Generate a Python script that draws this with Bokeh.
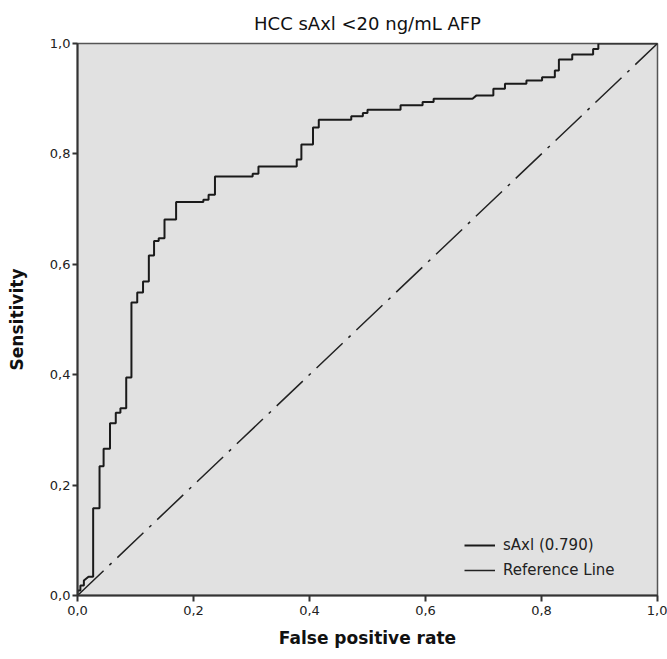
from bokeh.plotting import figure
from bokeh.models import Range1d, FixedTicker, CustomJSTickFormatter, Legend, LegendItem
from bokeh.embed import file_html
from bokeh.resources import INLINE

# ROC curve vertices (false positive rate, sensitivity)
fpr = [0.0, 0.0, 0.005, 0.005, 0.011, 0.011, 0.019, 0.027, 0.027, 0.038, 0.038, 0.045, 0.045,
       0.056, 0.056, 0.066, 0.066, 0.074, 0.074, 0.084, 0.084, 0.093, 0.093, 0.103, 0.103,
       0.113, 0.113, 0.123, 0.123, 0.132, 0.132, 0.140, 0.140, 0.150, 0.150, 0.170, 0.170,
       0.217, 0.217, 0.226, 0.226, 0.237, 0.237, 0.302, 0.302, 0.312, 0.312, 0.378, 0.378,
       0.386, 0.386, 0.406, 0.406, 0.416, 0.416, 0.472, 0.472, 0.492, 0.492, 0.500, 0.500,
       0.557, 0.557, 0.595, 0.595, 0.614, 0.614, 0.681, 0.688, 0.717, 0.717, 0.737, 0.737,
       0.774, 0.774, 0.801, 0.801, 0.823, 0.823, 0.830, 0.830, 0.853, 0.853, 0.889, 0.889,
       0.898, 0.898, 1.0]
tpr = [0.0, 0.009, 0.009, 0.018, 0.018, 0.027, 0.034, 0.034, 0.158, 0.158, 0.234, 0.234, 0.266,
       0.266, 0.312, 0.312, 0.331, 0.331, 0.339, 0.339, 0.395, 0.395, 0.531, 0.531, 0.549,
       0.549, 0.569, 0.569, 0.616, 0.616, 0.642, 0.642, 0.647, 0.647, 0.681, 0.681, 0.713,
       0.713, 0.717, 0.717, 0.726, 0.726, 0.759, 0.759, 0.764, 0.764, 0.777, 0.777, 0.790,
       0.790, 0.817, 0.817, 0.848, 0.848, 0.862, 0.862, 0.868, 0.868, 0.874, 0.874, 0.880,
       0.880, 0.888, 0.888, 0.894, 0.894, 0.900, 0.900, 0.906, 0.906, 0.918, 0.918, 0.927,
       0.927, 0.933, 0.933, 0.939, 0.939, 0.951, 0.951, 0.971, 0.971, 0.980, 0.980, 0.990,
       0.990, 1.0, 1.0]

ref_x = [0.0, 1.0]
ref_y = [0.0, 1.0]

ticks = [0.0, 0.2, 0.4, 0.6, 0.8, 1.0]
title_text = "HCC sAxl <20 ng/mL AFP"
x_label = "False positive rate"
y_label = "Sensitivity"
series_label = "sAxl (0.790)"
ref_label = "Reference Line"

FONT = "DejaVu Sans"

p = figure(width=667, height=659, output_backend="svg", toolbar_location=None,
           x_range=Range1d(0, 1), y_range=Range1d(0, 1),
           min_border_left=77, min_border_right=10, min_border_top=43, min_border_bottom=64,
           title=title_text)

p.background_fill_color = "#e1e1e1"
p.border_fill_color = "white"
p.outline_line_color = "#555555"
p.outline_line_width = 1.5
p.grid.visible = False

p.title.align = "center"
p.title.text_font = FONT
p.title.text_font_size = "18px"
p.title.text_font_style = "normal"
p.title.text_color = "#111111"
p.title.standoff = 20
p.title.text_line_height = 0.6

fmt = CustomJSTickFormatter(code="return tick.toFixed(1).replace('.', ',');")
for ax in (p.xaxis[0], p.yaxis[0]):
    ax.ticker = FixedTicker(ticks=ticks)
    ax.formatter = fmt
    ax.major_label_text_font = FONT
    ax.major_label_text_font_size = "13px"
    ax.major_label_text_color = "#222222"
    ax.axis_label_text_font = FONT
    ax.axis_label_text_font_size = "17px"
    ax.axis_label_text_font_style = "bold"
    ax.axis_label_text_color = "#111111"
    ax.axis_line_color = "#333333"
    ax.axis_line_width = 2
    ax.major_tick_line_color = "#333333"
    ax.major_tick_line_width = 2
    ax.major_tick_in = 0
    ax.minor_tick_line_color = None

p.xaxis[0].axis_label = x_label
p.yaxis[0].axis_label = y_label
p.xaxis[0].major_tick_out = 6
p.yaxis[0].major_tick_out = 5
p.xaxis[0].major_label_standoff = 4
p.yaxis[0].major_label_standoff = 2
p.xaxis[0].axis_label_standoff = 10
p.yaxis[0].axis_label_standoff = 20

r1 = p.line(fpr, tpr, line_color="#1a1a1a", line_width=2)
r2 = p.line(ref_x, ref_y, line_color="#222222", line_width=1.5, line_dash="36 8 3 8")

legend = Legend(items=[LegendItem(label=series_label, renderers=[r1]),
                       LegendItem(label=ref_label, renderers=[r2])],
                location=(387, 15))
legend.background_fill_alpha = 0
legend.border_line_color = None
legend.padding = 0
legend.margin = 0
legend.spacing = 5
legend.label_height = 20
legend.glyph_height = 20
legend.glyph_width = 31
legend.label_standoff = 8
legend.label_text_font = FONT
legend.label_text_font_size = "15px"
legend.label_text_color = "#222222"
p.add_layout(legend, "center")

open("out.html", "w").write(file_html(p, INLINE))
